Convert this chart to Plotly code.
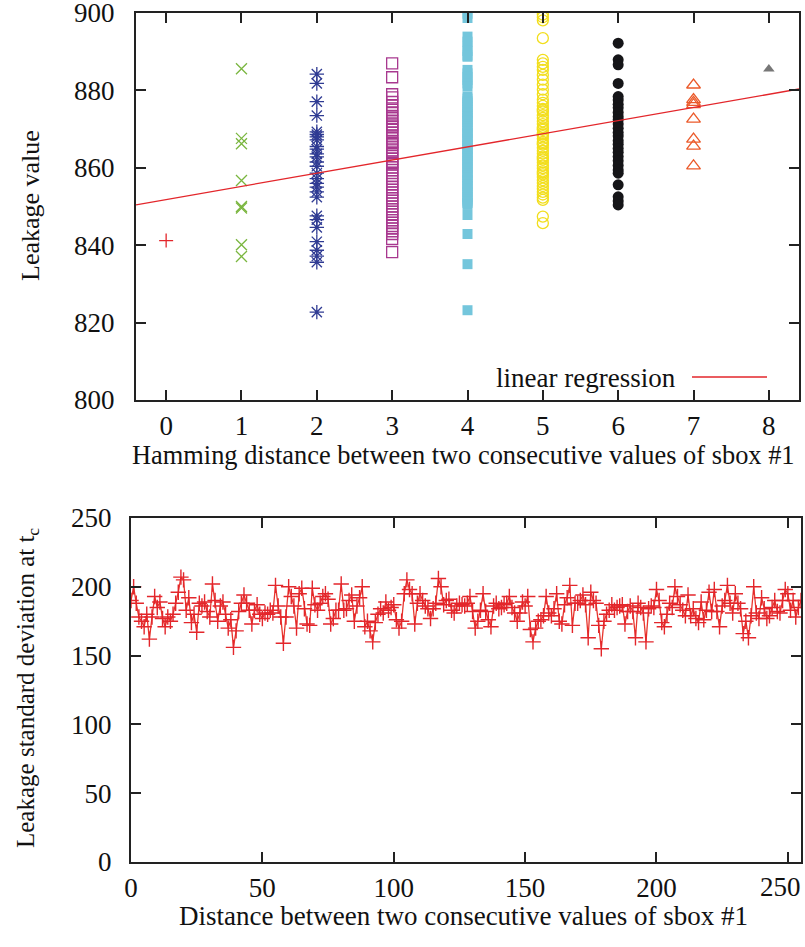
import plotly.graph_objects as go

# ---------------- data ----------------
# Top panel: leakage value grouped by Hamming distance (0..8)
hd0 = [841.2]
hd1 = [885.6, 867.6, 866.2, 856.7, 850.0, 849.6, 840.1, 837.1]
hd2 = [884.2, 881.8, 877.1, 873.5, 869.3, 868.6, 868.0, 867.2, 865.5, 864.8,
       863.6, 862.8, 861.5, 860.4, 858.6, 857.2, 856.0, 855.0, 853.8, 852.4,
       847.6, 846.6, 844.6, 840.9, 838.7, 837.2, 835.6, 822.7]
hd3 = [887.0, 883.4,
       879.0, 878.2, 877.0, 876.1, 875.0, 874.3, 873.4, 872.8, 872.0, 871.2,
       870.5, 869.8, 869.0, 868.3, 867.6, 866.8, 866.0, 865.3, 864.5, 863.8,
       863.0, 862.3, 861.6, 860.9, 860.1, 859.4, 858.7, 858.0, 857.2, 856.5,
       855.8, 855.0, 854.3, 853.6, 852.8, 852.1, 851.5, 850.8, 850.0, 849.3,
       848.6, 848.0, 847.2, 846.5, 845.8, 845.0, 844.3, 843.6, 842.9, 841.6,
       861.2, 866.4, 870.9,
       838.2]
hd4 = [899.8, 898.7,
       893.9, 892.6, 891.4, 890.2, 889.0, 888.7,
       885.3, 884.4, 883.5, 882.7, 881.8, 881.0,
       878.4, 877.9, 877.2, 876.8, 876.1, 875.7, 875.0, 874.4, 874.0, 873.3,
       872.9, 872.2, 871.9, 871.1, 870.6, 870.2, 869.5, 869.0, 868.6, 867.8,
       867.4, 866.9, 866.2, 865.8, 865.1, 864.7, 864.0, 863.6, 862.9, 862.5,
       861.8, 861.3, 860.9, 860.1, 859.8, 859.0, 858.5, 858.1, 857.4, 856.9,
       856.5, 855.7, 855.3, 854.6, 854.1, 853.7, 852.9, 852.4, 851.8, 851.3,
       850.9, 850.4,
       847.8, 842.9, 835.1, 823.2]
hd5 = [899.6, 898.9, 898.1, 893.5,
       887.9, 887.0, 886.1, 885.3, 884.0, 882.8, 881.5, 880.2, 879.0, 877.6,
       876.8, 876.0, 875.2, 874.5, 873.6, 872.9, 872.0, 871.3, 870.5, 869.8,
       869.0, 868.2, 867.5, 866.7, 866.0, 865.2, 864.4, 863.7, 862.9, 862.1,
       861.4, 860.6, 859.9, 859.1, 858.3, 857.6, 856.8, 856.1, 855.3, 854.6,
       853.8, 853.1, 852.3, 851.7, 870.1, 866.3, 862.5, 858.7, 874.9, 868.6,
       847.4, 845.7]
hd6 = [892.2, 887.9, 886.6, 881.8,
       878.4, 877.5, 876.4, 875.5, 874.3, 873.2, 872.4, 871.3, 870.2, 869.1,
       868.2, 867.0, 866.1, 865.0, 864.0, 862.9, 861.8, 860.6, 859.4,
       858.6, 855.6, 852.5, 851.4, 850.4]
hd7 = [881.4, 877.6, 876.9, 876.3, 872.6, 867.4, 865.6, 860.5]
hd8 = [885.5]

groups = [hd0, hd1, hd2, hd3, hd4, hd5, hd6, hd7, hd8]
hd_ticks = [0, 1, 2, 3, 4, 5, 6, 7, 8]
leak_ticks = [800, 820, 840, 860, 880, 900]

# linear regression of leakage against Hamming distance
reg_intercept = 851.8
reg_slope = 3.4
hd_range = [-0.4, 8.4]

# Bottom panel: leakage standard deviation for each sbox value distance 0..255
std_dev = [
    190, 200, 188, 178, 175, 171, 180, 162, 178, 193, 185, 189, 177, 171, 178, 175,
    180, 188, 196, 207, 205, 183, 192, 174, 180, 167, 188, 186, 189, 182, 178, 202,
    190, 175, 186, 189, 180, 170, 176, 156, 168, 182, 188, 194, 188, 183, 173, 183,
    187, 180, 177, 181, 180, 183, 181, 201, 186, 178, 159, 178, 200, 193, 186, 170,
    195, 199, 184, 173, 172, 199, 187, 183, 188, 193, 195, 191, 173, 177, 183, 183,
    202, 183, 184, 190, 194, 175, 186, 192, 200, 171, 175, 168, 160, 174, 180, 184,
    181, 189, 183, 185, 187, 176, 170, 175, 195, 205, 198, 195, 173, 188, 195, 190,
    186, 184, 177, 184, 188, 206, 200, 187, 190, 191, 183, 181, 186, 188, 187, 186,
    188, 193, 182, 170, 175, 183, 195, 182, 176, 171, 186, 188, 184, 185, 187, 188,
    193, 185, 181, 175, 181, 189, 186, 193, 169, 160, 170, 175, 176, 179, 193, 181,
    179, 184, 195, 175, 173, 187, 192, 201, 172, 188, 188, 190, 194, 187, 163, 196,
    190, 188, 172, 155, 175, 180, 183, 187, 183, 185, 186, 187, 173, 182, 186, 182,
    163, 188, 185, 181, 160, 184, 186, 185, 198, 190, 174, 171, 180, 188, 185, 200,
    193, 187, 183, 179, 194, 179, 184, 177, 174, 189, 176, 183, 196, 182, 198, 182,
    171, 186, 190, 201, 188, 181, 195, 188, 184, 166, 175, 163, 179, 200, 181, 177,
    192, 184, 177, 179, 185, 190, 182, 181, 190, 198, 195, 183, 190, 178, 185, 190,
]
distance = list(range(len(std_dev)))
dist_ticks = [0, 50, 100, 150, 200, 250]
std_ticks = [0, 50, 100, 150, 200, 250]

# ---------------- styling ----------------
W, H = 805, 947
FONT = "Liberation Serif, Times New Roman, serif"
AX = "#222222"
TXT = "#111111"

styles = [
    dict(symbol="cross-thin", color="#e3262b", size=10),
    dict(symbol="x-thin", color="#7ab63f", size=11),
    dict(symbol="asterisk", color="#2f3b93", size=12),
    dict(symbol="square-open", color="#a8388f", size=11),
    dict(symbol="square", color="#74c6dc", size=10),
    dict(symbol="circle-open", color="#f2de1c", size=11),
    dict(symbol="circle", color="#151518", size=11),
    dict(symbol="triangle-up-open", color="#eb5a2a", size=12),
    dict(symbol="triangle-up", color="#777777", size=10),
]

fig = go.Figure()

for k, vals in zip(hd_ticks, groups):
    st = styles[k]
    filled = st["symbol"] in ("square", "circle", "triangle-up")
    fig.add_trace(go.Scatter(
        x=[k] * len(vals), y=vals, mode="markers",
        marker=dict(symbol=st["symbol"], size=st["size"], color=st["color"],
                    line=dict(width=0 if filled else 1.3, color=st["color"])),
        xaxis="x", yaxis="y", showlegend=False, hoverinfo="y",
    ))

fig.add_trace(go.Scatter(
    x=hd_range, y=[reg_intercept + reg_slope * v for v in hd_range],
    mode="lines", line=dict(color="#e3262b", width=1.3),
    xaxis="x", yaxis="y", showlegend=False,
))

fig.add_trace(go.Scatter(
    x=distance, y=std_dev, mode="lines+markers",
    line=dict(color="#e8352d", width=1.3),
    marker=dict(symbol="cross-thin", size=11, color="#e3262b",
                line=dict(width=1.4, color="#e3262b")),
    xaxis="x2", yaxis="y2", showlegend=False,
))


def px(x):
    return x / W


def py(y):
    return 1 - y / H


axis_common = dict(
    showline=True, linecolor=AX, linewidth=2, mirror="ticks",
    ticks="inside", ticklen=10, tickwidth=1.6, tickcolor=AX,
    showgrid=False, zeroline=False, ticklabeloverflow="allow",
    tickfont=dict(family=FONT, size=27, color=TXT),
)

# the last distance label is placed by hand so it stays inside the page
dist_text = [str(v) for v in dist_ticks[:-1]] + [""]

fig.update_layout(
    width=W, height=H,
    margin=dict(l=0, r=0, t=0, b=0, autoexpand=False),
    paper_bgcolor="white", plot_bgcolor="white",
    font=dict(family=FONT, color=TXT),
    xaxis=dict(domain=[px(136), px(799)], range=hd_range, anchor="y",
               tickvals=hd_ticks, ticklabelstandoff=1, **axis_common),
    yaxis=dict(domain=[py(400), py(13)], range=[800, 900], anchor="x",
               tickvals=leak_ticks, ticklabelstandoff=14, **axis_common),
    xaxis2=dict(domain=[px(131), px(801)], range=[0, 255], anchor="y2",
                tickvals=dist_ticks, ticktext=dist_text, ticklabelstandoff=1,
                **axis_common),
    yaxis2=dict(domain=[py(862), py(518)], range=[0, 250], anchor="x2",
                tickvals=std_ticks, ticklabelstandoff=12, **axis_common),
    showlegend=False,
)

tick_font = dict(family=FONT, size=27, color=TXT)
fig.add_annotation(text=str(dist_ticks[-1]), x=px(803), y=py(887),
                   xref="paper", yref="paper", showarrow=False, font=tick_font,
                   xanchor="right", yanchor="middle")

fig.add_annotation(text="Hamming distance between two consecutive values of sbox #1",
                   x=px(130), y=py(455), xref="paper", yref="paper",
                   showarrow=False, font=dict(family=FONT, size=26.4, color=TXT),
                   xanchor="left", yanchor="middle")
fig.add_annotation(text="Leakage value", textangle=-90,
                   x=px(31), y=py(206), xref="paper", yref="paper",
                   showarrow=False, font=dict(family=FONT, size=26, color=TXT),
                   xanchor="center", yanchor="middle")
fig.add_annotation(text="Distance between two consecutive values of sbox #1",
                   x=px(464), y=py(916), xref="paper", yref="paper",
                   showarrow=False, font=dict(family=FONT, size=27, color=TXT),
                   xanchor="center", yanchor="middle")
fig.add_annotation(text="Leakage standard deviation at t<sub>c</sub>", textangle=-90,
                   x=px(27), y=py(688), xref="paper", yref="paper",
                   showarrow=False, font=dict(family=FONT, size=25, color=TXT),
                   xanchor="center", yanchor="middle")

# key for the regression line
fig.add_annotation(text="linear regression", x=px(678), y=py(378),
                   xref="paper", yref="paper", showarrow=False,
                   font=dict(family=FONT, size=27, color=TXT),
                   xanchor="right", yanchor="middle")
fig.add_shape(type="line", xref="paper", yref="paper",
              x0=px(692), x1=px(767), y0=py(377), y1=py(377),
              line=dict(color="#e3262b", width=1.3))

fig.write_html("out.html")
